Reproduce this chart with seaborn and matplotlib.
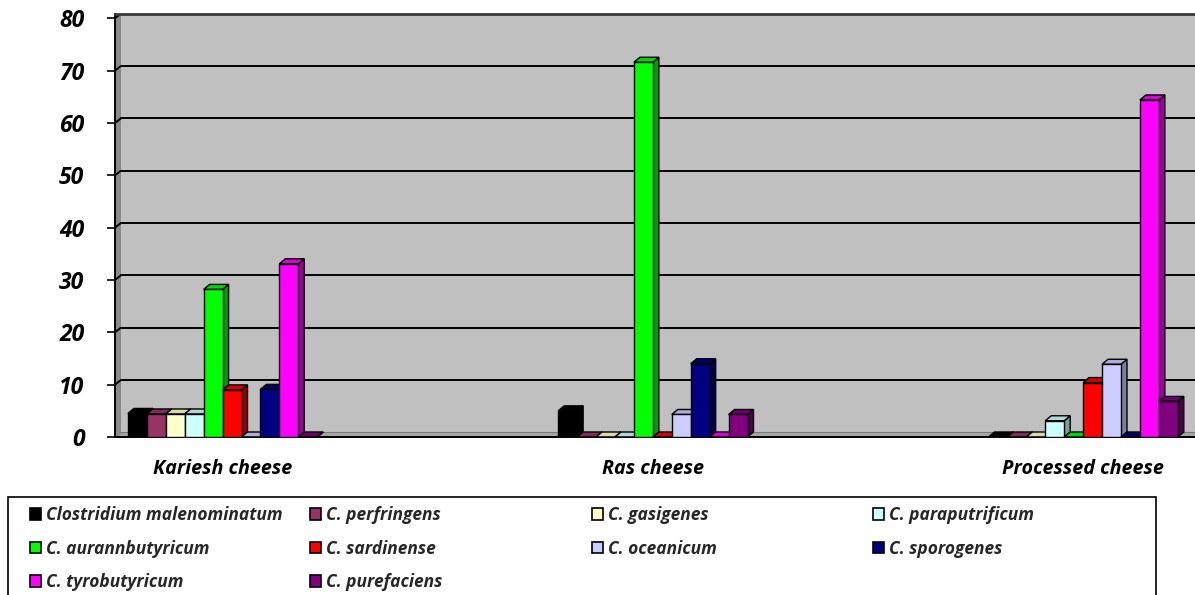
import numpy as np
import pandas as pd
import matplotlib
matplotlib.use('Agg')
import matplotlib.pyplot as plt
import matplotlib.colors as mcolors
from matplotlib.patches import Polygon, Patch, Rectangle
import seaborn as sns

# ---------------- data ----------------
cheeses = ['Kariesh cheese', 'Ras cheese', 'Processed cheese']
species = ['Clostridium malenominatum', 'C. perfringens', 'C. gasigenes',
           'C. paraputrificum', 'C. aurannbutyricum', 'C. sardinense',
           'C. oceanicum', 'C. sporogenes', 'C. tyrobutyricum', 'C. purefaciens']
kariesh = [4.5, 4.4, 4.4, 4.4, 28.2, 9.0, 0.0, 9.1, 33.1, 0.0]
ras = [5.0, 0.0, 0.0, 0.0, 71.6, 0.0, 4.3, 14.0, 0.0, 4.3]
processed = [0.0, 0.0, 0.0, 3.1, 0.0, 10.4, 13.9, 0.0, 64.4, 6.8]
colors = ['#000000', '#993366', '#FFFFCC', '#CCFFFF', '#00FF00',
          '#FF0000', '#CCCCFF', '#000080', '#FF00FF', '#800080']
y_ticks = [0, 10, 20, 30, 40, 50, 60, 70, 80]

rows = []
for cheese, vals in zip(cheeses, [kariesh, ras, processed]):
    for sp, v in zip(species, vals):
        rows.append({'cheese': cheese, 'species': sp, 'value': v})
df = pd.DataFrame(rows)

# ---------------- style ----------------
sns.set_theme(style='white')
plt.rcParams['font.family'] = ['Open Sans', 'DejaVu Sans']
plt.rcParams['font.weight'] = 'bold'
plt.rcParams['font.style'] = 'italic'

W, H = 1195, 595
fig = plt.figure(figsize=(W / 100, H / 100), dpi=100)
ax_left, ax_right = 115, 1195
ax_bottom, ax_top = 437, 13.6
ax = fig.add_axes([ax_left / W, (H - ax_bottom) / H,
                   (ax_right - ax_left) / W, (ax_bottom - ax_top) / H])
ax.set_facecolor('#C0C0C0')

sns.barplot(data=df, x='cheese', y='value', hue='species', order=cheeses,
            hue_order=species, palette=colors, width=0.44, saturation=1,
            edgecolor='black', linewidth=1.0, errorbar=None, legend=False,
            ax=ax)

xmin, xmax = -0.25, 2.26
ymin, ymax = 0, 80.9
ax.set_xlim(xmin, xmax)
ax.set_ylim(ymin, ymax)

px_x = (ax_right - ax_left) / (xmax - xmin)
px_y = (ax_bottom - ax_top) / (ymax - ymin)

# back wall / floor (3D look)
wdx, wdy = 6 / px_x, 4.7 / px_y
ax.add_patch(Polygon([(xmin, 0), (xmin + wdx, wdy), (xmin + wdx, ymax), (xmin, ymax)],
                     closed=True, facecolor='#8A8A8A', edgecolor='none', zorder=0.5))
ax.add_patch(Polygon([(xmin, 0), (xmax, 0), (xmax, wdy), (xmin + wdx, wdy)],
                     closed=True, facecolor='#A6A6A6', edgecolor='#7A7A7A',
                     linewidth=0.8, zorder=0.5))
for yv in y_ticks[1:]:
    ax.plot([xmin, xmin + wdx], [yv, yv + wdy], color='black', lw=1.4, zorder=1,
            solid_capstyle='butt')
    ax.plot([xmin + wdx, xmax], [yv + wdy, yv + wdy], color='black', lw=1.4, zorder=1)

# 3D faces on bars
bdx, bdy = 6 / px_x, 5 / px_y
n_c = len(cheeses)
for k, p in enumerate(ax.patches[:]):
    if not isinstance(p, Rectangle):
        continue
    j = k // n_c
    base = 3 + j * 0.1
    p.set_zorder(base)
    x0, y0, w, h = p.get_x(), p.get_y(), p.get_width(), p.get_height()
    fc = np.array(mcolors.to_rgb(p.get_facecolor()))
    side = Polygon([(x0 + w, y0), (x0 + w + bdx, y0 + bdy),
                    (x0 + w + bdx, y0 + h + bdy), (x0 + w, y0 + h)],
                   closed=True, facecolor=fc * 0.62, edgecolor='black',
                   linewidth=1.0, zorder=base - 0.02)
    top = Polygon([(x0, y0 + h), (x0 + bdx, y0 + h + bdy),
                   (x0 + w + bdx, y0 + h + bdy), (x0 + w, y0 + h)],
                  closed=True, facecolor=fc * 0.85, edgecolor='black',
                  linewidth=1.0, zorder=base - 0.01)
    ax.add_patch(side)
    ax.add_patch(top)

# axes, ticks, labels
ax.set_xlabel('')
ax.set_ylabel('')
ax.set_yticks(y_ticks)
ax.set_yticklabels([str(v) for v in y_ticks], fontsize=16.5, fontweight='bold',
                   fontstyle='italic')
ax.set_xticks(range(len(cheeses)))
ax.set_xticklabels(cheeses, fontsize=14.2, fontweight='bold', fontstyle='italic')
ax.set_xticks([-0.25, 0.25, 0.75, 1.25, 1.75, 2.25], minor=True)
ax.tick_params(axis='x', which='major', length=0, pad=16, colors='black')
ax.tick_params(axis='x', which='minor', length=5, width=1.2, direction='out',
               color='black')
ax.tick_params(axis='y', which='major', length=6, width=1.2, direction='out',
               pad=16, colors='black', left=True)
for s in ['left', 'bottom']:
    ax.spines[s].set_color('black')
    ax.spines[s].set_linewidth(1.4)
ax.spines['top'].set_color('#3A3A3A')
ax.spines['top'].set_linewidth(2)
ax.spines['right'].set_visible(False)
ax.grid(False)

# legend (four columns like the Excel legend)
handles = [Patch(facecolor=c, edgecolor='black', linewidth=1.2) for c in colors]
col_idx = [[0, 4, 8], [1, 5, 9], [2, 6], [3, 7]]
col_x = [30, 310, 592, 873]
for idx, cx in zip(col_idx, col_x):
    fig.legend([handles[i] for i in idx], [species[i] for i in idx],
               loc='upper left', bbox_to_anchor=(cx / W, 1 - 506 / H),
               frameon=False, borderpad=0, borderaxespad=0,
               handlelength=0.65, handleheight=0.65, handletextpad=0.3,
               labelspacing=0.9,
               prop={'size': 12.5, 'weight': 'bold', 'style': 'italic'})
fig.add_artist(Rectangle((8 / W, -0.05), 1148 / W, (1 - 497 / H) + 0.05,
                         transform=fig.transFigure, fill=False,
                         edgecolor='black', linewidth=1.2))

fig.savefig('out.png', dpi=100, facecolor='white')
